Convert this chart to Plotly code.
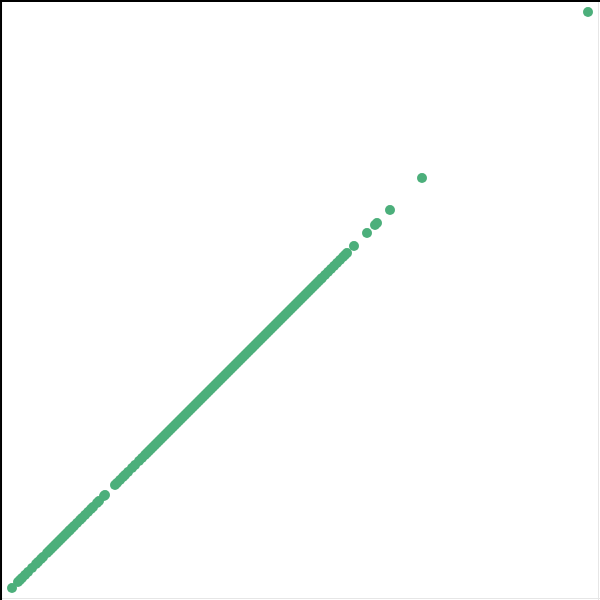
import plotly.graph_objects as go

# values (x == y for every point)
low_tail = [12, 18, 20, 22, 25, 28, 32, 36, 38, 41, 43, 47, 49, 51, 53, 55, 57, 59, 61, 63,
            65, 67, 69, 70, 72, 74, 77, 80, 82, 85, 88, 91, 93, 97, 99, 104, 105,
            115, 117, 120, 123, 125, 128, 132, 135, 139, 142, 145]
middle = [147, 149, 151, 153, 155, 157, 159, 161, 163, 165, 167, 169, 171, 173, 175, 177,
          179, 181, 183, 185, 187, 189, 191, 193, 195, 197, 199, 201, 203, 205, 207, 209,
          211, 213, 215, 217, 219, 221, 223, 225, 227, 229, 231, 233, 235, 237, 239, 241,
          243, 245, 247, 249, 251, 253, 255, 257, 259, 261, 263, 265, 267, 269, 271, 273,
          275, 277, 279, 281, 283, 285, 287, 289, 291, 293, 295, 297, 299, 301, 303, 305,
          307, 309, 311, 313, 315, 317, 319]
high_tail = [321, 322, 325, 328, 331, 334, 337, 340, 343, 345, 347, 354, 367, 375, 377, 390, 422, 588]

values = low_tail + middle + high_tail

fig = go.Figure(go.Scatter(
    x=values, y=values, mode="markers",
    marker=dict(size=10, color="#4caf7b", line=dict(width=0)),
    hoverinfo="skip",
))

fig.update_layout(
    width=600, height=600,
    margin=dict(l=0, r=0, t=0, b=0),
    paper_bgcolor="white", plot_bgcolor="white",
    showlegend=False,
    xaxis=dict(range=[0, 600], showgrid=False, zeroline=False, showticklabels=False, ticks="",
               showline=False),
    yaxis=dict(range=[0, 600], showgrid=False, zeroline=False, showticklabels=False, ticks="",
               showline=False),
    shapes=[
        dict(type="line", xref="paper", yref="paper", x0=0.9975, x1=0.9975, y0=0, y1=1,
             line=dict(color="#e6e6e6", width=1)),
        dict(type="line", xref="paper", yref="paper", x0=0, x1=1, y0=0.0025, y1=0.0025,
             line=dict(color="#e6e6e6", width=1)),
        dict(type="line", xref="paper", yref="paper", x0=0.0017, x1=0.0017, y0=0, y1=1,
             line=dict(color="black", width=2)),
        dict(type="line", xref="paper", yref="paper", x0=0, x1=1, y0=0.9983, y1=0.9983,
             line=dict(color="black", width=2)),
    ],
)

fig.write_html("out.html")
